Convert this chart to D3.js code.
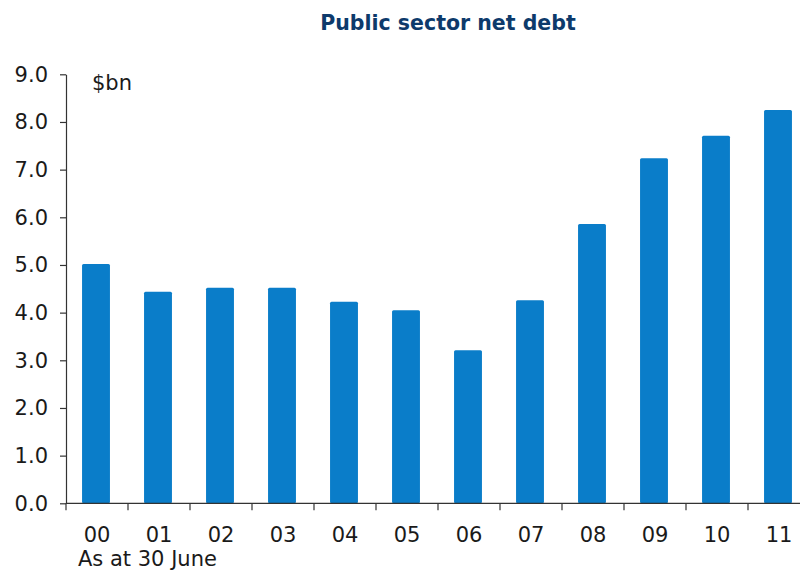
<!DOCTYPE html>
<html>
<head>
<meta charset="utf-8">
<script src="https://cdn.jsdelivr.net/npm/d3@7"></script>
<style>
  body { margin: 0; background: #fff; }
  svg { display: block; overflow: hidden; }
  text { font-family: "DejaVu Sans", Verdana, sans-serif; fill: #1a1a1a; }
  .axis path, .axis line { stroke: #333; stroke-width: 1.2; }
  .axis text { font-size: 21px; fill: #1a1a1a; }
</style>
</head>
<body>
<div id="chart"></div>
<script>
const years = ['00', '01', '02', '03', '04', '05', '06', '07', '08', '09', '10', '11'];
const debt = [5.02, 4.44, 4.52, 4.52, 4.23, 4.05, 3.21, 4.26, 5.86, 7.24, 7.71, 8.25];
const yTicks = [0, 1, 2, 3, 4, 5, 6, 7, 8, 9];

const width = 800, height = 573;
const plot = { left: 66, right: 810, top: 74.3, bottom: 503.3 };
const barBlue = '#0a7dc9';

const svg = d3.select('#chart').append('svg')
  .attr('width', width)
  .attr('height', height);

const x = d3.scaleBand()
  .domain(years)
  .range([plot.left, plot.right])
  .paddingInner(0.55)
  .paddingOuter(0.275);

const y = d3.scaleLinear()
  .domain([0, 9])
  .range([plot.bottom, plot.top]);

// bars
svg.append('g')
  .selectAll('rect')
  .data(years)
  .enter().append('rect')
  .attr('x', (d, i) => x(d) - 1)
  .attr('y', (d, i) => y(debt[i]))
  .attr('width', x.bandwidth())
  .attr('height', (d, i) => y(0) - y(debt[i]))
  .attr('rx', 1.5)
  .attr('fill', barBlue);

// y axis
const yAxis = d3.axisLeft(y)
  .tickValues(yTicks)
  .tickFormat(d3.format('.1f'))
  .tickSizeInner(6)
  .tickSizeOuter(0)
  .tickPadding(12);

svg.append('g')
  .attr('class', 'axis')
  .attr('transform', 'translate(' + plot.left + ',0)')
  .call(yAxis);

// x axis: ticks sit between categories
const xAxisG = svg.append('g')
  .attr('class', 'axis')
  .attr('transform', 'translate(0,' + plot.bottom + ')');

xAxisG.append('line')
  .attr('x1', plot.left).attr('x2', width)
  .attr('y1', 0).attr('y2', 0);

xAxisG.selectAll('line.tick')
  .data(years)
  .enter().append('line')
  .attr('class', 'tick')
  .attr('x1', d => x(d) - x.step() * x.paddingOuter())
  .attr('x2', d => x(d) - x.step() * x.paddingOuter())
  .attr('y1', 0).attr('y2', 7);

xAxisG.selectAll('text')
  .data(years)
  .enter().append('text')
  .attr('x', d => x(d) + x.bandwidth() / 2)
  .attr('y', 38.5)
  .attr('text-anchor', 'middle')
  .text(d => d);

// labels
svg.append('text')
  .attr('x', 448)
  .attr('y', 30)
  .attr('text-anchor', 'middle')
  .style('font-size', '20.5px')
  .style('font-weight', 'bold')
  .style('fill', '#0d3a6b')
  .text('Public sector net debt');

svg.append('text')
  .attr('x', 92)
  .attr('y', 90)
  .style('font-size', '21px')
  .text('$bn');

svg.append('text')
  .attr('x', 78)
  .attr('y', 566)
  .style('font-size', '21px')
  .text('As at 30 June');
</script>
</body>
</html>
